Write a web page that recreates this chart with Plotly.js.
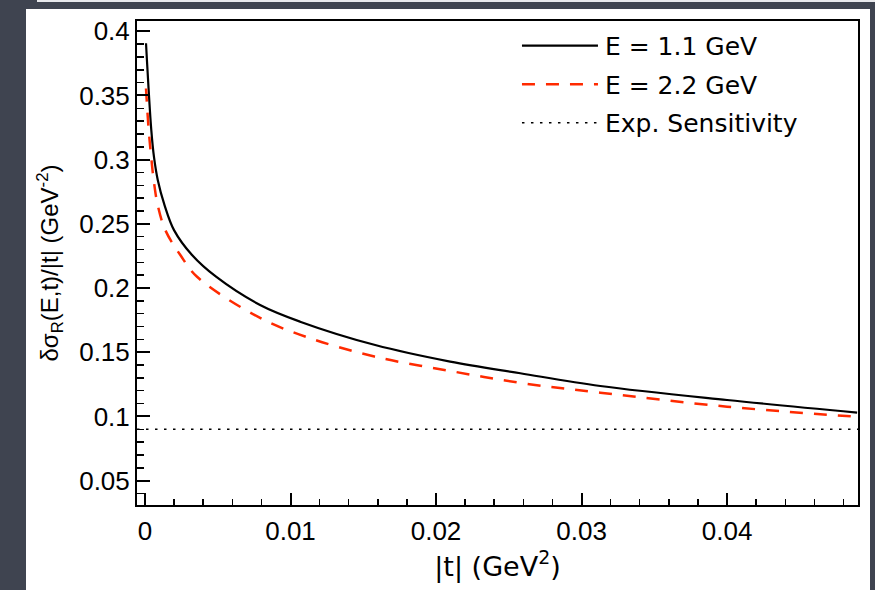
<!DOCTYPE html>
<html>
<head>
<meta charset="utf-8">
<script src="https://cdn.plot.ly/plotly-3.0.1.min.js"></script>
<style>
  html, body { margin: 0; padding: 0; width: 875px; height: 590px; overflow: hidden;
    background: #3f4450; }
  #topstrip { position: absolute; left: 37px; top: 0; width: 838px; height: 2px; background: #e8e9ec; }
  #chart { position: absolute; left: 26px; top: 9px; width: 844px; height: 581px; background: #fff; }
</style>
</head>
<body>
<div id="topstrip"></div>
<div id="chart"></div>
<script>
// |t| (GeV^2) and delta sigma_R / |t| values
const tE11 = [0.000069, 0.000433, 0.000619, 0.00088, 0.001341, 0.001994, 0.003232, 0.004882, 0.007908, 0.01066, 0.01582, 0.02097, 0.02579, 0.03129, 0.04, 0.04894];
const vE11 = [0.3907, 0.3230, 0.3019, 0.2840, 0.2646, 0.2451, 0.2257, 0.2088, 0.1868, 0.1738, 0.1556, 0.1427, 0.1336, 0.1237, 0.1128, 0.1030];
const tE22 = [0.000069, 0.000254, 0.000413, 0.000598, 0.000873, 0.001396, 0.002427, 0.003576, 0.007908, 0.01135, 0.01582, 0.02097, 0.02599, 0.03129, 0.04, 0.04882];
const vE22 = [0.3554, 0.3230, 0.3037, 0.2840, 0.2646, 0.2451, 0.2257, 0.2088, 0.1767, 0.1609, 0.1465, 0.1354, 0.1258, 0.1185, 0.1076, 0.0998];
const sensitivity = 0.09;
const names = ["E = 1.1 GeV", "E = 2.2 GeV", "Exp. Sensitivity"];
const xRange = [-0.00055, 0.0490];
const yRange = [0.031, 0.408];

const traces = [
  { x: tE11, y: vE11, name: names[0], legendgroup: 'a', mode: 'lines',
    line: { color: '#000000', width: 2.2, shape: 'spline', smoothing: 1 } },
  { x: tE22, y: vE22, name: names[1], legendgroup: 'b', mode: 'lines',
    line: { color: '#ff2a00', width: 2.5, dash: '13px,11px', shape: 'spline', smoothing: 1 } },
  { x: xRange, y: [sensitivity, sensitivity], name: names[2], legendgroup: 'c', mode: 'lines',
    line: { color: '#000000', width: 1.5, dash: '2.5px,6.5px' } }
];

const layout = {
  width: 844, height: 581,
  margin: { l: 111, r: 12, t: 12, b: 85, pad: 0 },
  paper_bgcolor: '#ffffff', plot_bgcolor: '#ffffff',
  showlegend: true,
  legend: { x: 0.527, y: 0.996, xanchor: 'left', yanchor: 'top',
    bgcolor: 'rgba(0,0,0,0)', borderwidth: 0, itemwidth: 78, tracegroupgap: 3,
    font: { family: 'DejaVu Sans', size: 25, color: '#000' } },
  xaxis: {
    range: xRange, showgrid: false, zeroline: false,
    showline: true, linecolor: '#000', linewidth: 2, mirror: true,
    ticks: 'inside', ticklen: 12, tickwidth: 2, tickcolor: '#000',
    dtick: 0.01, tick0: 0, ticklabelstandoff: 2,
    minor: { dtick: 0.002, ticks: 'inside', ticklen: 6, tickwidth: 1.5, tickcolor: '#000', showgrid: false },
    tickfont: { family: 'Liberation Sans', size: 26, color: '#000' },
    title: { text: '|t| (GeV<sup>2</sup>)', font: { family: 'DejaVu Sans', size: 27, color: '#000' }, standoff: 8 }
  },
  yaxis: {
    range: yRange, showgrid: false, zeroline: false,
    showline: true, linecolor: '#000', linewidth: 2, mirror: true,
    ticks: 'inside', ticklen: 13, tickwidth: 2, tickcolor: '#000',
    dtick: 0.05, tick0: 0,
    minor: { dtick: 0.01, ticks: 'inside', ticklen: 7, tickwidth: 1.5, tickcolor: '#000', showgrid: false },
    tickfont: { family: 'Liberation Sans', size: 26, color: '#000' },
    title: { text: 'δσ<sub>R</sub>(E,t)/|t| (GeV<sup>-2</sup>)', font: { family: 'Liberation Sans', size: 24, color: '#000' }, standoff: 14 }
  }
};

Plotly.newPlot('chart', traces, layout, { displayModeBar: false, staticPlot: true }).then(function () {
  document.querySelectorAll('#chart .legend .traces').forEach(function (tr) {
    tr.querySelectorAll('.legendlines path').forEach(function (p) { p.setAttribute('d', 'M5,0h76'); });
    var txt = tr.querySelector('text.legendtext');
    if (txt) {
      txt.setAttribute('x', 88);
      txt.querySelectorAll('tspan.line').forEach(function (s) { s.setAttribute('x', 88); });
    }
  });
});
</script>
</body>
</html>
